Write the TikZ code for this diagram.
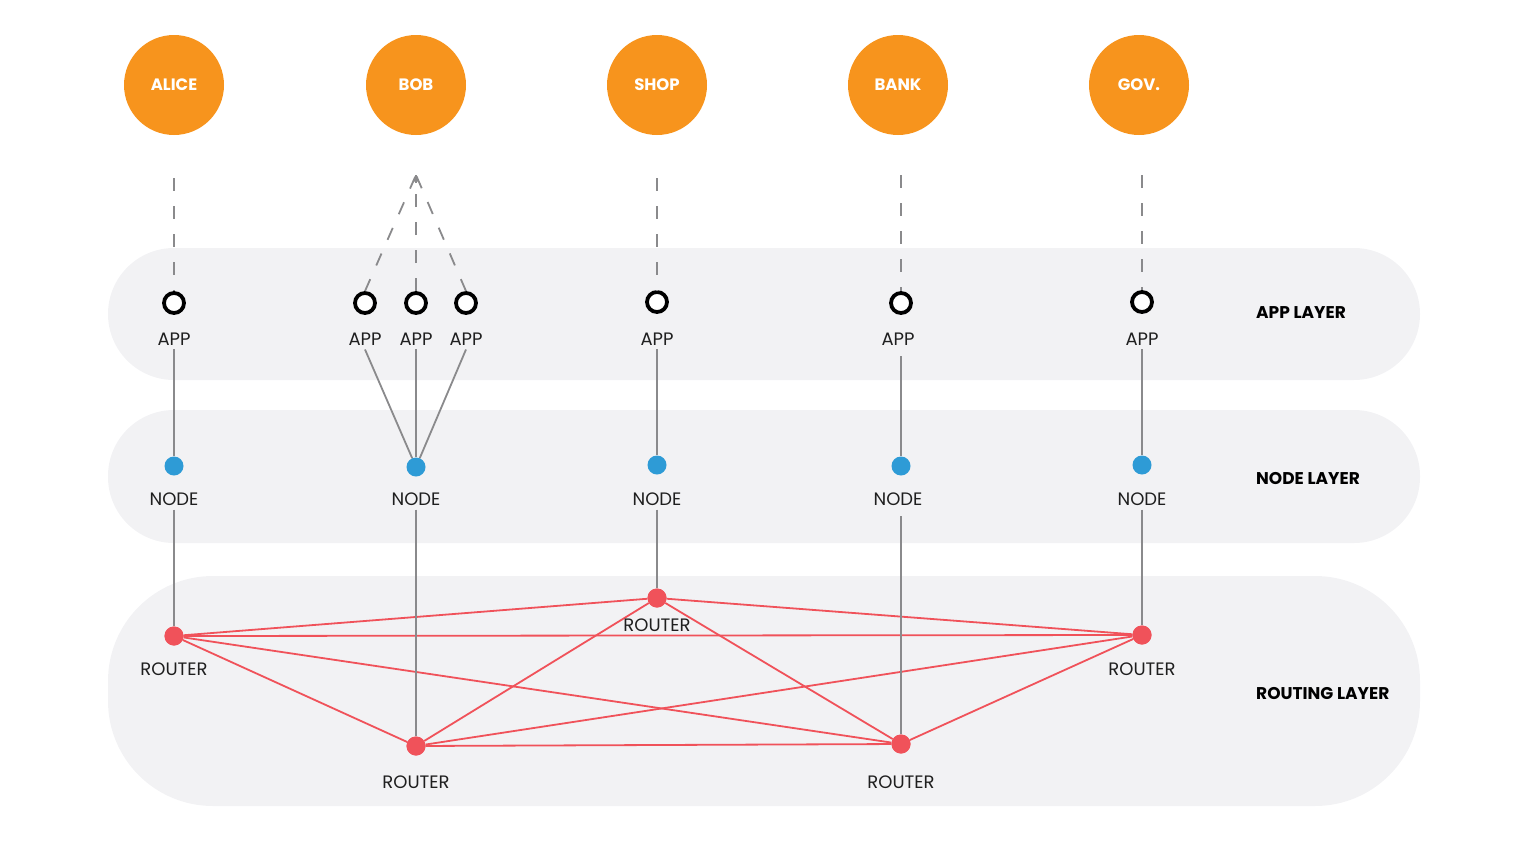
\documentclass[tikz,border=0pt]{standalone}
\usepackage{fontspec}
\setmainfont{Poppins}
\usetikzlibrary{arrows.meta,calc}
\definecolor{band}{HTML}{F2F2F4}
\definecolor{person}{HTML}{F7941D}
\definecolor{nodeblue}{HTML}{2E9BD6}
\definecolor{routerred}{HTML}{F0525A}
\definecolor{wire}{HTML}{8A8A8C}
\begin{document}
\begin{tikzpicture}[x=1pt,y=-1pt,
  layerband/.style={fill=band,draw=none},
  personc/.style={circle,fill=person,minimum size=100pt,inner sep=0pt,text=white,font=\fontsize{16.5}{16.5}\selectfont\bfseries},
  appc/.style={circle,draw=black,line width=3.8pt,fill=white,minimum size=20pt,inner sep=0pt},
  nodec/.style={circle,fill=nodeblue,minimum size=19pt,inner sep=0pt},
  routerc/.style={circle,fill=routerred,minimum size=19pt,inner sep=0pt},
  lbl/.style={font=\fontsize{18}{18}\selectfont,inner sep=4pt,text=black!88},
  layerlbl/.style={font=\fontsize{17}{17}\selectfont\bfseries,anchor=west,inner sep=0pt},
  dashline/.style={draw=wire,line width=1.8pt,dash pattern=on 13pt off 15pt},
  wireline/.style={draw=wire,line width=1.8pt},
  mesh/.style={draw=routerred,line width=1.8pt}]
\useasboundingbox (0,0) rectangle (1537,846);
% layer bands
\fill[layerband,rounded corners=66pt] (108,248) rectangle (1420,380);
\fill[layerband,rounded corners=66pt] (108,410) rectangle (1420,543);
\fill[layerband,rounded corners=105pt] (108,576) rectangle (1420,806);
\node[layerlbl] (lapp) at (1256,313) {APP LAYER};
\node[layerlbl] (lnode) at (1256,479) {NODE LAYER};
\node[layerlbl] (lrouting) at (1256,693) {ROUTING LAYER};
% participants
\node[personc] (alice) at (174,85) {ALICE};
\node[personc] (bob) at (416,85) {BOB};
\node[personc] (shop) at (657,85) {SHOP};
\node[personc] (bank) at (898,85) {BANK};
\node[personc] (gov) at (1139,85) {GOV.};
% apps
\node[appc] (a1) at (174,303) {};
\node[appc] (a2) at (365,303) {};
\node[appc] (a3) at (416,303) {};
\node[appc] (a4) at (466,303) {};
\node[appc] (a5) at (657,302) {};
\node[appc] (a6) at (901,303) {};
\node[appc] (a7) at (1142,302) {};
\foreach \i/\x in {1/174,2/365,3/416,4/466,5/657,6/898,7/1142}
  \node[lbl] (la\i) at (\x,339) {APP};
% nodes
\node[nodec] (n1) at (174,466) {};
\node[nodec] (n2) at (416,467) {};
\node[nodec] (n3) at (657,465) {};
\node[nodec] (n4) at (901,466) {};
\node[nodec] (n5) at (1142,465) {};
\foreach \i/\x in {1/174,2/416,3/657,4/898,5/1142}
  \node[lbl] (ln\i) at (\x,499) {NODE};
% routers
\node[routerc] (r1) at (174,636) {};
\node[routerc] (r2) at (416,746) {};
\node[routerc] (r3) at (657,598) {};
\node[routerc] (r4) at (901,744) {};
\node[routerc] (r5) at (1142,635) {};
% dashed links from participants to their apps
\coordinate (ta) at (174,178);
\coordinate (tb) at (416,175);
\coordinate (ts) at (657,178);
\coordinate (tk) at (901,175);
\coordinate (tg) at (1142,175);
\draw[dashline] (ta) -- (a1.north);
\draw[dashline] (ts) -- (a5.north);
\draw[dashline] (tk) -- (a6.north);
\draw[dashline] (tg) -- (a7.north);
\draw[dashline] (a2.north) -- (tb);
\draw[dashline] (a3.north) -- (tb);
\draw[dashline] (a4.north) -- (tb);
\draw[draw=wire,line width=1.8pt,-{Stealth[length=8pt,width=7pt]}] ($(tb)+(0,8)$) -- (tb);
% apps to nodes
\draw[wireline] (la1.south) -- (n1);
\draw[wireline] (la2.south) -- (n2);
\draw[wireline] (la3.south) -- (n2);
\draw[wireline] (la4.south) -- (n2);
\draw[wireline] (la5.south) -- (n3);
\draw[wireline] (901,356) -- (n4);
\draw[wireline] (la7.south) -- (n5);
% routing mesh
\foreach \p/\q in {r1/r2,r1/r3,r1/r4,r1/r5,r2/r3,r2/r4,r2/r5,r3/r4,r3/r5,r4/r5}
  \draw[mesh] (\p) -- (\q);
% nodes to routers
\draw[wireline] (ln1.south) -- (r1);
\draw[wireline] (ln2.south) -- (r2);
\draw[wireline] (ln3.south) -- (r3);
\draw[wireline] (901,516) -- (r4);
\draw[wireline] (ln5.south) -- (r5);
% router dots on top
\foreach \r in {r1,r2,r3,r4,r5} \fill[routerred] (\r) circle (9.5pt);
\node[lbl] (lr1) at (174,669) {ROUTER};
\node[lbl] (lr2) at (416,782) {ROUTER};
\node[lbl] (lr3) at (657,625) {ROUTER};
\node[lbl] (lr4) at (901,782) {ROUTER};
\node[lbl] (lr5) at (1142,669) {ROUTER};
\end{tikzpicture}
\end{document}
